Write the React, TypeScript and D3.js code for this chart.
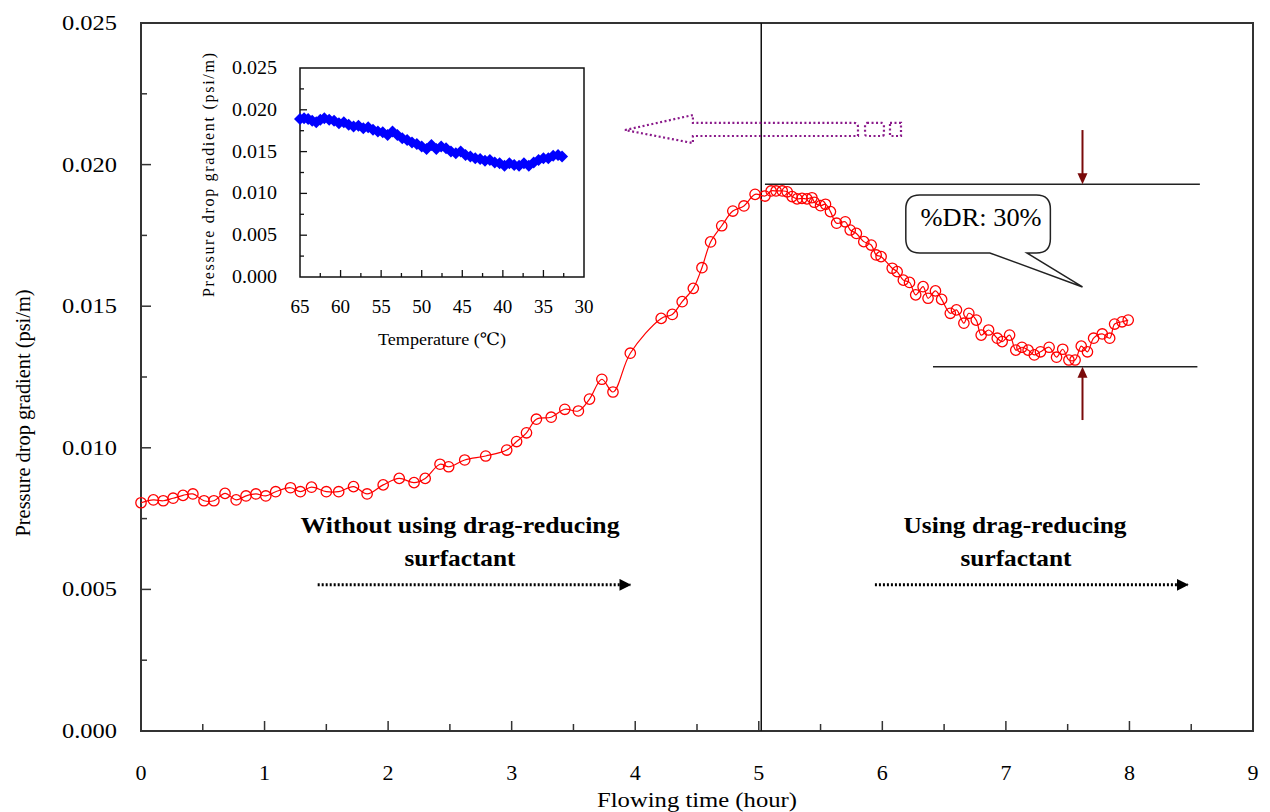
import React from "react";
import * as d3 from "d3";

// ---- Main series: flowing time (hour) vs pressure drop gradient (psi/m)
const flowTime: number[] = [
  0.0, 0.1, 0.18, 0.26, 0.34, 0.42, 0.51, 0.59, 0.68, 0.77, 0.85, 0.93, 1.01, 1.09,
  1.21, 1.29, 1.38, 1.5, 1.6, 1.72, 1.83, 1.96, 2.09, 2.21, 2.3, 2.42, 2.49, 2.62,
  2.79, 2.96, 3.04, 3.12, 3.2, 3.32, 3.43, 3.54, 3.63, 3.73, 3.82, 3.96, 4.21, 4.3,
  4.38, 4.47, 4.54, 4.61, 4.7, 4.79, 4.88, 4.97, 5.05, 5.1, 5.14, 5.19, 5.23, 5.27,
  5.31, 5.35, 5.39, 5.43, 5.45, 5.5, 5.54, 5.58, 5.63, 5.7, 5.74, 5.79, 5.85, 5.91,
  5.95, 5.99, 6.08, 6.12, 6.17, 6.22, 6.27, 6.33, 6.37, 6.43, 6.48, 6.55, 6.6, 6.66,
  6.7, 6.76, 6.8, 6.86, 6.93, 6.97, 7.03, 7.08, 7.13, 7.18, 7.23, 7.28, 7.35, 7.41,
  7.46, 7.51, 7.56, 7.61, 7.66, 7.71, 7.78, 7.84, 7.88, 7.94, 7.99,
];
const pressureGradient: number[] = [
  0.00806, 0.00816, 0.00813, 0.00822, 0.00832, 0.00837, 0.00813, 0.00813, 0.00839, 0.00816,
  0.0083, 0.00837, 0.0083, 0.00845, 0.00859, 0.00845, 0.00861, 0.00845, 0.00845, 0.00863,
  0.00837, 0.00869, 0.00892, 0.00877, 0.00892, 0.00942, 0.00933, 0.00957, 0.00971, 0.00992,
  0.01022, 0.01053, 0.01101, 0.01108, 0.01136, 0.0113, 0.01172, 0.01242, 0.01197, 0.01334,
  0.01457, 0.01471, 0.01516, 0.01563, 0.01636, 0.01727, 0.01784, 0.01836, 0.01854, 0.01895,
  0.01889, 0.01907, 0.01907, 0.01907, 0.01904, 0.01887, 0.01879, 0.01881, 0.01879, 0.01883,
  0.01867, 0.01855, 0.0186, 0.01834, 0.01793, 0.01798, 0.01769, 0.01757, 0.01728, 0.01716,
  0.01681, 0.01675, 0.01634, 0.01622, 0.01592, 0.01584, 0.0154, 0.01569, 0.01528, 0.01554,
  0.01524, 0.01475, 0.01487, 0.0144, 0.01475, 0.01451, 0.01398, 0.01416, 0.01387, 0.01375,
  0.01398, 0.01345, 0.01355, 0.01345, 0.01328, 0.01339, 0.01355, 0.0132, 0.01348, 0.0131,
  0.0131, 0.01359, 0.01339, 0.01387, 0.01402, 0.01387, 0.01437, 0.01445, 0.01451,
];

// ---- Inset series: temperature (°C) vs pressure drop gradient
const insetTemp: number[] = [
  65.0, 64.5, 64.0, 63.5, 63.0, 62.5, 62.0, 61.4, 60.8, 60.2, 59.6, 59.0, 58.4, 57.8,
  57.2, 56.6, 56.0, 55.4, 54.8, 54.2, 53.6, 53.0, 52.4, 51.8, 51.2, 50.6, 50.0, 49.4,
  48.8, 48.2, 47.6, 47.0, 46.4, 45.8, 45.2, 44.6, 44.0, 43.4, 42.8, 42.2, 41.6, 41.0,
  40.4, 39.8, 39.2, 38.6, 38.0, 37.4, 36.8, 36.2, 35.6, 35.0, 34.4, 33.8, 33.2, 32.7,
];
const insetGradient: number[] = [
  0.0189, 0.019, 0.0189, 0.0187, 0.0185, 0.0188, 0.019, 0.0188, 0.0187, 0.0184, 0.0185,
  0.0182, 0.018, 0.0181, 0.0178, 0.0179, 0.0176, 0.0174, 0.0173, 0.017, 0.0174, 0.017,
  0.0166, 0.0164, 0.0161, 0.0159, 0.0156, 0.0153, 0.0158, 0.0153, 0.0156, 0.0154, 0.015,
  0.0148, 0.015, 0.0146, 0.0144, 0.0142, 0.0141, 0.0139, 0.014, 0.0137, 0.0136, 0.0133,
  0.0136, 0.0134, 0.0133, 0.0136, 0.0133, 0.0137, 0.014, 0.0142, 0.0142, 0.0145, 0.0146,
  0.0144,
];

// ---- Axis ticks
const xTicks: number[] = [0, 1, 2, 3, 4, 5, 6, 7, 8, 9];
const yTicks: number[] = [0, 0.005, 0.01, 0.015, 0.02, 0.025];
const insetXTicks: number[] = [65, 60, 55, 50, 45, 40, 35, 30];
const insetYTicks: number[] = [0, 0.005, 0.01, 0.015, 0.02, 0.025];

// ---- Annotation values (data units)
const switchTime = 5.02;
const maxLevel = 0.01931;
const minLevel = 0.01286;
const drLabel = "%DR: 30%";

const FONT = "Liberation Serif, Tinos, DejaVu Serif, Times New Roman, serif";

export default function App() {
  const W = 1270;
  const H = 812;
  const x = d3.scaleLinear().domain([0, 9]).range([141, 1253]);
  const y = d3.scaleLinear().domain([0, 0.025]).range([731, 23]);
  const ix = d3.scaleLinear().domain([65, 30]).range([300, 584]);
  const iy = d3.scaleLinear().domain([0, 0.025]).range([277, 68]);

  const pts = flowTime.map((t, i) => [t, pressureGradient[i]] as [number, number]);
  const line = d3
    .line<[number, number]>()
    .x((d) => x(d[0]))
    .y((d) => y(d[1]))
    .curve(d3.curveCatmullRom.alpha(0.5));

  const ipts = insetTemp.map((t, i) => [t, insetGradient[i]] as [number, number]);
  const iline = d3
    .line<[number, number]>()
    .x((d) => ix(d[0]))
    .y((d) => iy(d[1]));

  const xMinor = d3.range(0.5, 9, 1);
  const yMinor = d3.range(0.0025, 0.025, 0.005);
  const ixMinor = d3.range(62.5, 30, -5);
  const iyMinor = d3.range(0.0025, 0.025, 0.005);

  // callout
  const bx0 = x(6.19), bx1 = x(7.36), by0 = y(0.01893), by1 = y(0.01688);
  const r = 14;
  const tb0 = x(6.87), tb1 = x(7.17);
  const tip: [number, number] = [x(7.62), y(0.01568)];
  const callout = [
    `M${bx0 + r},${by0}`,
    `L${bx1 - r},${by0}`,
    `Q${bx1},${by0} ${bx1},${by0 + r}`,
    `L${bx1},${by1 - r}`,
    `Q${bx1},${by1} ${bx1 - r},${by1}`,
    `L${tb1},${by1}`,
    `L${tip[0]},${tip[1]}`,
    `L${tb0},${by1}`,
    `L${bx0 + r},${by1}`,
    `Q${bx0},${by1} ${bx0},${by1 - r}`,
    `L${bx0},${by0 + r}`,
    `Q${bx0},${by0} ${bx0 + r},${by0}`,
    "Z",
  ].join(" ");

  // purple dotted block arrow
  const pTip = [x(3.917), y(0.02122)];
  const pHead = x(4.467);
  const pEnd = x(5.803);
  const pHT = y(0.02175), pST = y(0.02147), pSB = y(0.02101), pHB = y(0.02076);
  const purple = `M${pTip[0]},${pTip[1]} L${pHead},${pHT} L${pHead},${pST} L${pEnd - 4},${pST} Q${pEnd},${pST} ${pEnd},${pST + 4} L${pEnd},${pSB} L${pHead},${pSB} L${pHead},${pHB} Z`;

  const arrowX = x(7.62);
  const maroon = "#7a0a0a";

  return (
    <svg
      width={W}
      height={H}
      style={{ position: "absolute", left: 0, top: 0, display: "block", background: "#fff", fontFamily: FONT }}
    >
      <defs>
        <marker id="blk" viewBox="0 0 10 10" refX="9" refY="5" markerWidth="4" markerHeight="4" orient="auto">
          <path d="M0,0 L10,5 L0,10 Z" fill="#000" />
        </marker>
      </defs>

      {/* main frame */}
      <rect x={141} y={23} width={1253 - 141} height={731 - 23} fill="none" stroke="#333" strokeWidth={2} />

      {/* y ticks */}
      {yTicks.map((v) => (
        <g key={"yt" + v}>
          {v > 0 && v < 0.025 && <line x1={141} x2={151} y1={y(v)} y2={y(v)} stroke="#333" strokeWidth={1.5} />}
          <text x={117} y={y(v) + 7} textAnchor="end" fontSize={22} fill="#000" textLength={55} lengthAdjust="spacingAndGlyphs">
            {v.toFixed(3)}
          </text>
        </g>
      ))}
      {yMinor.map((v) => (
        <line key={"ym" + v} x1={141} x2={147} y1={y(v)} y2={y(v)} stroke="#333" strokeWidth={1.5} />
      ))}

      {/* x ticks */}
      {xTicks.map((t) => (
        <g key={"xt" + t}>
          {t > 0 && t < 9 && <line x1={x(t)} x2={x(t)} y1={731} y2={721} stroke="#333" strokeWidth={1.5} />}
          <text x={x(t)} y={780} textAnchor="middle" fontSize={22} fill="#000">
            {t}
          </text>
        </g>
      ))}
      {xMinor.map((t) => (
        <line key={"xm" + t} x1={x(t)} x2={x(t)} y1={731} y2={724} stroke="#333" strokeWidth={1.5} />
      ))}

      {/* axis titles */}
      <text x={697} y={807} textAnchor="middle" fontSize={22} fill="#000" textLength={200} lengthAdjust="spacingAndGlyphs">
        Flowing time (hour)
      </text>
      <text transform={`translate(30,413) rotate(-90)`} textAnchor="middle" fontSize={21} fill="#000" textLength={247} lengthAdjust="spacingAndGlyphs">
        Pressure drop gradient (psi/m)
      </text>

      {/* vertical divider */}
      <line x1={x(switchTime)} x2={x(switchTime)} y1={23} y2={731} stroke="#111" strokeWidth={1.5} />

      {/* reference lines */}
      <line x1={x(5.05)} x2={x(8.57)} y1={y(maxLevel)} y2={y(maxLevel)} stroke="#222" strokeWidth={1.5} />
      <line x1={x(6.41)} x2={x(8.55)} y1={y(minLevel)} y2={y(minLevel)} stroke="#222" strokeWidth={1.5} />

      {/* maroon arrows */}
      <line x1={arrowX} x2={arrowX} y1={y(0.02122)} y2={y(maxLevel) - 9} stroke={maroon} strokeWidth={2} />
      <path d={`M${arrowX - 5},${y(maxLevel) - 11} L${arrowX + 5},${y(maxLevel) - 11} L${arrowX},${y(maxLevel)} Z`} fill={maroon} />
      <line x1={arrowX} x2={arrowX} y1={y(0.01098)} y2={y(minLevel) + 9} stroke={maroon} strokeWidth={2} />
      <path d={`M${arrowX - 5},${y(minLevel) + 11} L${arrowX + 5},${y(minLevel) + 11} L${arrowX},${y(minLevel)} Z`} fill={maroon} />

      {/* callout */}
      <path d={callout} fill="#fff" stroke="#222" strokeWidth={1.5} />
      <text x={(bx0 + bx1) / 2 + 3} y={by0 + 31} textAnchor="middle" fontSize={25} fill="#000" textLength={121} lengthAdjust="spacingAndGlyphs">
        {drLabel}
      </text>

      {/* purple dotted arrow */}
      <path d={purple} fill="none" stroke="#8a1a8a" strokeWidth={2.2} strokeDasharray="2,2.5" />
      <rect x={x(5.86)} y={pST} width={x(6.013) - x(5.86)} height={pSB - pST} fill="none" stroke="#8a1a8a" strokeWidth={2.2} strokeDasharray="2,2.5" rx={2} />
      <rect x={x(6.062)} y={pST} width={x(6.151) - x(6.062)} height={pSB - pST} fill="none" stroke="#8a1a8a" strokeWidth={2.2} strokeDasharray="2,2.5" />

      {/* data line + markers */}
      <path d={line(pts) || ""} fill="none" stroke="#ff0000" strokeWidth={1.2} />
      {pts.map((d, i) => (
        <circle key={"p" + i} cx={x(d[0])} cy={y(d[1])} r={5.2} fill="none" stroke="#ff0000" strokeWidth={1.3} />
      ))}

      {/* period labels */}
      <g fontWeight="bold" fontSize={24} fill="#000" textAnchor="middle" lengthAdjust="spacingAndGlyphs">
        <text x={460} y={y(0.00699)} textLength={319} lengthAdjust="spacingAndGlyphs">Without using drag-reducing</text>
        <text x={460} y={y(0.00583)} textLength={111} lengthAdjust="spacingAndGlyphs">surfactant</text>
        <text x={1015} y={y(0.00699)} textLength={223} lengthAdjust="spacingAndGlyphs">Using drag-reducing</text>
        <text x={1016} y={y(0.00583)} textLength={111} lengthAdjust="spacingAndGlyphs">surfactant</text>
      </g>
      <line x1={x(1.43)} x2={x(3.96)} y1={y(0.00516)} y2={y(0.00516)} stroke="#000" strokeWidth={3} strokeDasharray="2,2" markerEnd="url(#blk)" />
      <line x1={x(5.94)} x2={x(8.47)} y1={y(0.00516)} y2={y(0.00516)} stroke="#000" strokeWidth={3} strokeDasharray="2,2" markerEnd="url(#blk)" />

      {/* ---- inset ---- */}
      <rect x={300} y={68} width={284} height={209} fill="#fff" stroke="#111" strokeWidth={1.5} />
      {insetYTicks.map((v) => (
        <g key={"iyt" + v}>
          {v > 0 && v < 0.025 && <line x1={300} x2={307} y1={iy(v)} y2={iy(v)} stroke="#111" strokeWidth={1.3} />}
          <text x={277} y={iy(v) + 6} textAnchor="end" fontSize={18} fill="#000" textLength={45} lengthAdjust="spacingAndGlyphs">
            {v.toFixed(3)}
          </text>
        </g>
      ))}
      {iyMinor.map((v) => (
        <line key={"iym" + v} x1={300} x2={304} y1={iy(v)} y2={iy(v)} stroke="#111" strokeWidth={1.3} />
      ))}
      {insetXTicks.map((t) => (
        <g key={"ixt" + t}>
          {t < 65 && t > 30 && <line x1={ix(t)} x2={ix(t)} y1={277} y2={270} stroke="#111" strokeWidth={1.3} />}
          <text x={ix(t)} y={313} textAnchor="middle" fontSize={19} fill="#000">
            {t}
          </text>
        </g>
      ))}
      {ixMinor.map((t) => (
        <line key={"ixm" + t} x1={ix(t)} x2={ix(t)} y1={277} y2={273} stroke="#111" strokeWidth={1.3} />
      ))}
      <text x={442} y={345} textAnchor="middle" fontSize={17} fill="#000" textLength={128} lengthAdjust="spacingAndGlyphs">
        Temperature (℃)
      </text>
      <text transform={`translate(214,175) rotate(-90)`} textAnchor="middle" fontSize={16} fill="#000" textLength={244} lengthAdjust="spacing">
        Pressure drop gradient (psi/m)
      </text>
      <path d={iline(ipts) || ""} fill="none" stroke="#0000ff" strokeWidth={2} />
      {ipts.map((d, i) => {
        const cx = ix(d[0]);
        const cy = iy(d[1]);
        return (
          <path key={"ip" + i} d={`M${cx},${cy - 6} L${cx + 6},${cy} L${cx},${cy + 6} L${cx - 6},${cy} Z`} fill="#0000ff" />
        );
      })}
    </svg>
  );
}
